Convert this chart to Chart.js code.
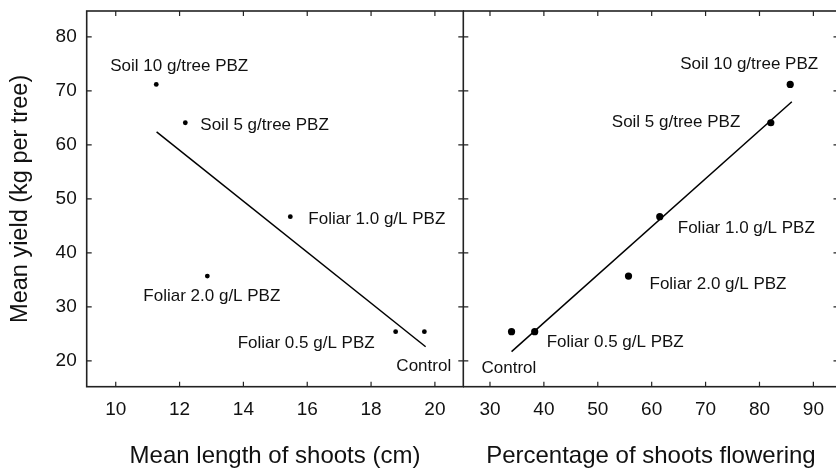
<!DOCTYPE html>
<html>
<head>
<meta charset="utf-8">
<script src="https://cdn.jsdelivr.net/npm/chart.js@4/dist/chart.umd.min.js"></script>
<style>
  html, body { margin: 0; padding: 0; background: #fff; overflow: hidden; }
  #wrap { position: relative; width: 836px; height: 472px; overflow: hidden; }
  #length-chart { position: absolute; left: 0; top: 0; }
  #flowering-chart { position: absolute; left: 463px; top: 0; }
</style>
</head>
<body>
<div id="wrap">
  <canvas id="length-chart" width="464" height="472"></canvas>
  <canvas id="flowering-chart" width="380" height="472"></canvas>
</div>
<script>
const treatments = ['Soil 10 g/tree PBZ', 'Soil 5 g/tree PBZ', 'Foliar 1.0 g/L PBZ', 'Foliar 2.0 g/L PBZ', 'Foliar 0.5 g/L PBZ', 'Control'];
const meanYield = [71.2, 64.1, 46.7, 35.7, 25.4, 25.4];
const shootLength = [11.27, 12.18, 15.47, 12.87, 18.77, 19.67];
const shootsFlowering = [85.7, 82.1, 61.5, 55.7, 38.3, 34.0];

// fitted regression lines (end points)
const lengthFitX = [11.28, 19.71];
const lengthFitY = [62.4, 22.6];
const floweringFitX = [34.0, 86.0];
const floweringFitY = [21.7, 68.0];

const yieldTicks = [20, 30, 40, 50, 60, 70, 80];
const lengthTicks = [10, 12, 14, 16, 18, 20];
const floweringTicks = [30, 40, 50, 60, 70, 80, 90];

// label placement relative to each point, in px (text start, text middle)
const lengthLabelOffsets = [[-46, -18], [15, 3], [18, 3], [-64, 20], [-158, 12], [-28, 35]];
const floweringLabelOffsets = [[-110, -20], [-159, 0], [18, 12], [21, 8], [12, 11], [-30, 37]];

const FONT = '"Liberation Sans", Arial, sans-serif';
const INK = '#111';
Chart.defaults.font.family = FONT;
Chart.defaults.color = INK;

// Box round the plot area with short inward ticks on every side
const framePlugin = {
  id: 'frame',
  afterDraw(chart) {
    const { ctx, chartArea: a, scales } = chart;
    const len = 5;
    ctx.save();
    ctx.strokeStyle = '#222';
    ctx.lineWidth = 1.6;
    ctx.strokeRect(a.left, a.top, a.right - a.left, a.bottom - a.top);
    ctx.lineWidth = 1.2;
    ctx.beginPath();
    scales.x.ticks.forEach((t) => {
      const px = scales.x.getPixelForValue(t.value);
      ctx.moveTo(px, a.bottom); ctx.lineTo(px, a.bottom - len);
      ctx.moveTo(px, a.top); ctx.lineTo(px, a.top + len);
    });
    scales.y.ticks.forEach((t) => {
      const py = scales.y.getPixelForValue(t.value);
      ctx.moveTo(a.left, py); ctx.lineTo(a.left + len, py);
      ctx.moveTo(a.right, py); ctx.lineTo(a.right - len, py);
    });
    ctx.stroke();
    ctx.restore();
  }
};

// Treatment names written next to each point
const pointLabelPlugin = {
  id: 'pointLabels',
  afterDatasetsDraw(chart, args, opts) {
    const { ctx } = chart;
    const meta = chart.getDatasetMeta(0);
    ctx.save();
    ctx.font = '17px ' + FONT;
    ctx.fillStyle = INK;
    ctx.textAlign = 'left';
    ctx.textBaseline = 'middle';
    meta.data.forEach((pt, i) => {
      const [dx, dy] = opts.offsets[i];
      ctx.fillText(opts.names[i], pt.x + dx, pt.y + dy);
    });
    ctx.restore();
  }
};

function fixedTicks(values) {
  return (scale) => { scale.ticks = values.map((v) => ({ value: v })); };
}

// pin a scale's box size and drop the extra room it asks for its end labels
function fixSize(prop, size) {
  return (s) => {
    s[prop] = size;
    s.paddingTop = s.paddingBottom = s.paddingLeft = s.paddingRight = 0;
  };
}

function buildPanel(canvasId, xData, fitX, fitY, panel) {
  const ctx = document.getElementById(canvasId).getContext('2d');
  return new Chart(ctx, {
    type: 'scatter',
    data: {
      datasets: [
        {
          data: xData.map((x, i) => ({ x, y: meanYield[i] })),
          pointRadius: panel.dotRadius,
          pointBackgroundColor: '#000',
          pointBorderWidth: 0
        },
        {
          data: fitX.map((x, i) => ({ x, y: fitY[i] })),
          showLine: true,
          borderColor: '#000',
          borderWidth: 1.5,
          pointRadius: 0
        }
      ]
    },
    options: {
      responsive: false,
      animation: false,
      layout: { padding: panel.padding, autoPadding: false },
      plugins: {
        legend: { display: false },
        tooltip: { enabled: false },
        pointLabels: { names: treatments, offsets: panel.labelOffsets }
      },
      scales: {
        x: {
          type: 'linear',
          min: panel.xMin,
          max: panel.xMax,
          grid: { display: false, drawTicks: false },
          border: { display: false },
          afterBuildTicks: fixedTicks(panel.xTicks),
          afterFit: fixSize('height', 85.3),
          ticks: { font: { size: 19 }, padding: 12, color: INK },
          title: { display: true, text: panel.xTitle, font: { size: 24 }, padding: { top: 0, bottom: 1 }, color: INK }
        },
        y: {
          type: 'linear',
          min: 15.2,
          max: 84.8,
          display: panel.showY,
          grid: { display: false, drawTicks: false },
          border: { display: false },
          afterBuildTicks: fixedTicks(yieldTicks),
          afterFit: fixSize('width', panel.showY ? 86.7 : 0),
          ticks: { font: { size: 19 }, padding: 10, color: INK },
          title: { display: true, text: 'Mean yield (kg per tree)', font: { size: 23.5 }, padding: { top: 6, bottom: 0 }, color: INK }
        }
      }
    },
    plugins: [framePlugin, pointLabelPlugin]
  });
}

buildPanel('length-chart', shootLength, lengthFitX, lengthFitY, {
  xMin: 9.09, xMax: 20.89, xTicks: lengthTicks,
  xTitle: 'Mean length of shoots (cm)',
  showY: true, dotRadius: 2.4,
  padding: { left: 0, right: 0.7, top: 11, bottom: 0 },
  labelOffsets: lengthLabelOffsets
});

buildPanel('flowering-chart', shootsFlowering, floweringFitX, floweringFitY, {
  xMin: 25.05, xMax: 94.66, xTicks: floweringTicks,
  xTitle: 'Percentage of shoots flowering',
  showY: false, dotRadius: 3.6,
  padding: { left: 0.3, right: 4.5, top: 11, bottom: 0 },
  labelOffsets: floweringLabelOffsets
});
</script>
</body>
</html>
